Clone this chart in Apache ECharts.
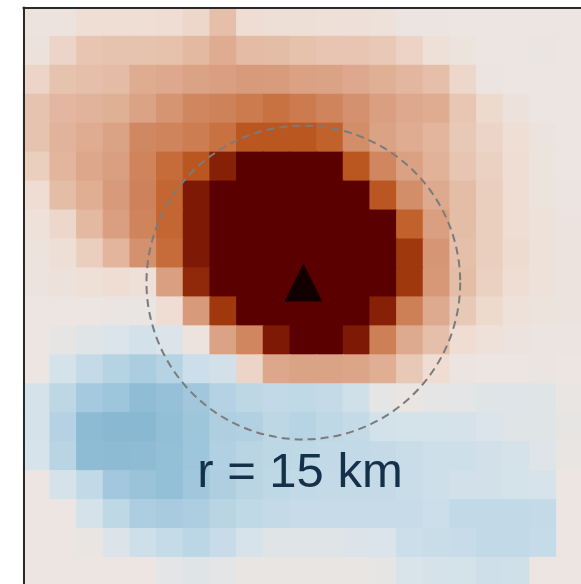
<!DOCTYPE html>
<html>
<head>
<meta charset="utf-8">
<script src="https://cdn.jsdelivr.net/npm/echarts@6/dist/echarts.min.js"></script>
<style>
  html, body { margin: 0; padding: 0; background: #ffffff; }
  #chart { width: 581px; height: 584px; }
</style>
</head>
<body>
<div id="chart"></div>
<script>
// Grid cell indices (columns west to east, rows north to south)
const colIds = [0, 1, 2, 3, 4, 5, 6, 7, 8, 9, 10, 11, 12, 13, 14, 15, 16, 17, 18, 19, 20];
const rowIds = [0, 1, 2, 3, 4, 5, 6, 7, 8, 9, 10, 11, 12, 13, 14, 15, 16, 17, 18, 19];

// Normalised anomaly per cell, one list per row (values >= 1 are saturated)
const row00 = [0.02, 0.02, 0.09, 0.09, 0.09, 0.10, 0.13, 0.25, 0.10, 0.08, 0.08, 0.07, 0.06, 0.05, 0.01, 0.01, 0.00, 0.00, 0.00, 0.00, 0.00];
const row01 = [0.04, 0.14, 0.22, 0.23, 0.23, 0.24, 0.28, 0.35, 0.27, 0.26, 0.24, 0.22, 0.22, 0.20, 0.15, 0.07, 0.03, 0.00, 0.00, -0.01, 0.00];
const row02 = [0.14, 0.23, 0.25, 0.27, 0.35, 0.37, 0.40, 0.42, 0.44, 0.43, 0.41, 0.40, 0.37, 0.33, 0.29, 0.25, 0.13, 0.01, 0.00, 0.00, 0.00];
const row03 = [0.23, 0.29, 0.31, 0.33, 0.40, 0.47, 0.53, 0.55, 0.58, 0.62, 0.58, 0.54, 0.48, 0.42, 0.37, 0.35, 0.21, 0.12, 0.04, 0.00, 0.00];
const row04 = [0.23, 0.31, 0.35, 0.40, 0.52, 0.54, 0.57, 0.62, 0.72, 0.72, 0.72, 0.68, 0.50, 0.40, 0.35, 0.30, 0.20, 0.14, 0.09, 0.02, 0.00];
const row05 = [0.17, 0.30, 0.38, 0.42, 0.54, 0.64, 0.72, 0.88, 1.00, 1.00, 1.00, 1.00, 0.72, 0.53, 0.41, 0.32, 0.22, 0.16, 0.10, 0.03, 0.00];
const row06 = [0.10, 0.26, 0.34, 0.44, 0.55, 0.66, 0.90, 1.00, 1.00, 1.00, 1.00, 1.00, 1.00, 0.72, 0.50, 0.36, 0.26, 0.17, 0.10, 0.03, 0.01];
const row07 = [0.05, 0.13, 0.28, 0.42, 0.54, 0.66, 0.90, 1.00, 1.00, 1.00, 1.00, 1.00, 1.00, 1.00, 0.68, 0.42, 0.26, 0.17, 0.10, 0.05, 0.02];
const row08 = [0.03, 0.08, 0.17, 0.30, 0.48, 0.64, 0.90, 1.00, 1.00, 1.00, 1.00, 1.00, 1.00, 1.00, 0.82, 0.46, 0.25, 0.17, 0.11, 0.05, 0.02];
const row09 = [0.02, 0.04, 0.07, 0.10, 0.07, 0.42, 0.86, 1.00, 1.00, 1.00, 1.00, 1.00, 1.00, 1.00, 0.82, 0.45, 0.26, 0.16, 0.10, 0.05, 0.02];
const row10 = [0.00, 0.00, 0.00, -0.01, -0.02, 0.10, 0.44, 0.82, 1.00, 1.00, 1.00, 1.00, 1.00, 0.88, 0.56, 0.36, 0.20, 0.12, 0.05, 0.03, 0.02];
const row11 = [0.00, -0.03, -0.07, -0.10, -0.15, -0.10, 0.02, 0.40, 0.53, 0.90, 1.00, 1.00, 0.90, 0.56, 0.36, 0.25, 0.10, 0.05, 0.02, 0.01, 0.01];
const row12 = [0.00, -0.14, -0.24, -0.32, -0.38, -0.32, -0.20, -0.16, 0.14, 0.38, 0.40, 0.40, 0.39, 0.34, 0.20, 0.10, 0.01, 0.00, 0.00, -0.01, 0.00];
const row13 = [-0.13, -0.28, -0.42, -0.47, -0.55, -0.52, -0.44, -0.33, -0.28, -0.25, -0.26, -0.24, -0.17, -0.04, -0.01, -0.04, -0.05, -0.07, -0.08, -0.07, -0.02];
const row14 = [-0.13, -0.33, -0.57, -0.60, -0.60, -0.54, -0.46, -0.36, -0.35, -0.28, -0.31, -0.27, -0.24, -0.15, -0.14, -0.14, -0.13, -0.10, -0.07, -0.07, -0.03];
const row15 = [-0.12, -0.30, -0.56, -0.57, -0.56, -0.53, -0.47, -0.35, -0.30, -0.28, -0.27, -0.25, -0.25, -0.24, -0.21, -0.19, -0.19, -0.16, -0.13, -0.08, -0.02];
const row16 = [0.00, -0.13, -0.25, -0.43, -0.49, -0.53, -0.45, -0.36, -0.30, -0.27, -0.25, -0.24, -0.24, -0.24, -0.21, -0.19, -0.16, -0.16, -0.14, -0.12, 0.00];
const row17 = [0.00, 0.00, -0.13, -0.27, -0.37, -0.40, -0.37, -0.30, -0.26, -0.24, -0.22, -0.22, -0.22, -0.22, -0.22, -0.20, -0.25, -0.25, -0.25, -0.24, 0.00];
const row18 = [0.00, 0.00, -0.02, -0.09, -0.19, -0.23, -0.29, -0.22, -0.12, -0.07, -0.07, -0.07, -0.09, -0.10, -0.20, -0.21, -0.22, -0.25, -0.25, -0.23, 0.00];
const row19 = [0.00, 0.00, 0.00, 0.00, 0.00, -0.05, -0.07, -0.05, -0.02, -0.02, -0.02, -0.02, -0.02, -0.03, -0.11, -0.13, -0.14, -0.18, -0.17, 0.00, 0.00];

// Station location (column, row) and the search ring around it
const stationCell = [10, 9];
const ringRadiusKm = 15;
const kmPerCell = 2.55;
const ringLabel = 'r = 15 km';

// Diverging palette: blue (negative) -> warm neutral -> orange -> dark red (positive)
const palette = [
  '#24609a', '#3f7fae', '#5a95bd', '#74a9c9', '#88b8d2', '#98c2d9',
  '#a8cbdf', '#b9d5e4', '#cbdee9', '#dae4ea', '#ece5e1',
  '#efddd3', '#e8c9b7', '#e2b59c', '#dba386', '#d28d69',
  '#ca7648', '#bf5c24', '#a8400f', '#7e1906', '#5a0000'
];

const anomalyRows = [row00, row01, row02, row03, row04, row05, row06, row07, row08, row09,
                     row10, row11, row12, row13, row14, row15, row16, row17, row18, row19];
const cells = [];
anomalyRows.forEach((row, r) => row.forEach((v, c) => cells.push([colIds[c], rowIds[r], v])));

// Each cell is drawn a hair larger than its band so neighbours overlap without seams
function renderCell(params, api) {
  const center = api.coord([api.value(0), api.value(1)]);
  const size = api.size([1, 1]);
  const pad = 0.6;
  return {
    type: 'rect',
    shape: {
      x: center[0] - size[0] / 2 - pad,
      y: center[1] - size[1] / 2 - pad,
      width: size[0] + 2 * pad,
      height: size[1] + 2 * pad
    },
    style: { fill: api.visual('color') }
  };
}

function renderRing(params, api) {
  const center = api.coord([api.value(0), api.value(1)]);
  const cellW = api.size([1, 0])[0];
  const r = ringRadiusKm / kmPerCell * cellW;
  return {
    type: 'circle',
    shape: { cx: center[0], cy: center[1], r: r },
    style: { fill: 'none', stroke: '#7b7b7b', lineWidth: 2, lineDash: [8, 5] }
  };
}

const chart = echarts.init(document.getElementById('chart'), null, { renderer: 'canvas' });
chart.setOption({
  animation: false,
  backgroundColor: '#ffffff',
  grid: { left: 23.35, top: 7.5, width: 560, height: 579, outerBoundsMode: 'none' },
  xAxis: {
    type: 'category', data: colIds, position: 'top',
    axisLine: { show: true, onZero: false, lineStyle: { color: '#2a2a2a', width: 2 } },
    axisTick: { show: false }, axisLabel: { show: false }, splitLine: { show: false }, z: 10
  },
  yAxis: {
    type: 'category', data: rowIds, inverse: true,
    axisLine: { show: true, onZero: false, lineStyle: { color: '#2a2a2a', width: 2 } },
    axisTick: { show: false }, axisLabel: { show: false }, splitLine: { show: false }, z: 10
  },
  visualMap: {
    show: false, type: 'continuous', min: -1, max: 1, dimension: 2, seriesIndex: 0,
    inRange: { color: palette }
  },
  series: [
    {
      type: 'custom', data: cells, renderItem: renderCell,
      encode: { x: 0, y: 1 }, silent: true, z: 2
    },
    {
      type: 'custom', data: [stationCell], renderItem: renderRing,
      encode: { x: 0, y: 1 }, silent: true, z: 5
    },
    {
      type: 'scatter', data: [stationCell], symbol: 'triangle', symbolSize: [38, 38],
      itemStyle: { color: '#000000' }, silent: true, z: 6
    }
  ],
  graphic: [
    {
      type: 'text', x: 300, y: 473, z: 20, silent: true,
      style: {
        text: ringLabel, fill: '#15314a',
        font: '49px "Liberation Sans", Arial, sans-serif',
        align: 'center', verticalAlign: 'middle'
      }
    }
  ]
});
</script>
</body>
</html>
